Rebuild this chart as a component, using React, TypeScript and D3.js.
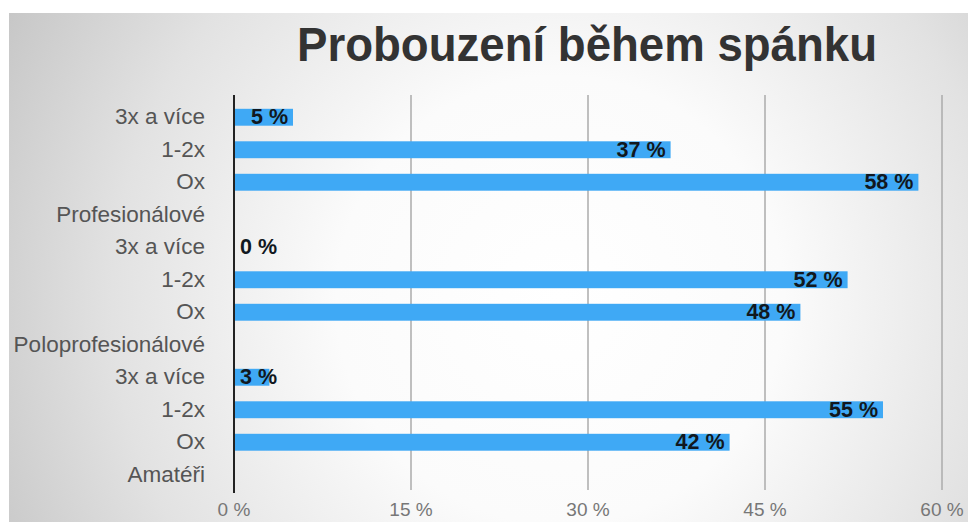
import React from "react";
import * as d3 from "d3";

const title = "Probouzení během spánku";
const categories = [
  "3x a více", "1-2x", "Ox", "Profesionálové",
  "3x a více", "1-2x", "Ox", "Poloprofesionálové",
  "3x a více", "1-2x", "Ox", "Amatéři",
];
const values: (number | null)[] = [5, 37, 58, null, 0, 52, 48, null, 3, 55, 42, null];
const xTicks = [0, 15, 30, 45, 60];

const W = 968;
const H = 522;

export default function App() {
  React.useEffect(() => {
    document.body.style.margin = "0";
  }, []);
  const x = d3.scaleLinear().domain([0, 60]).range([234, 942]);
  const ids = categories.map((_, i) => String(i));
  const y = d3.scaleBand<string>().domain(ids).range([101, 491]).paddingInner(0.48).paddingOuter(0.24);
  const font = "'Liberation Sans', Arial, Helvetica, sans-serif";
  const labelW = (v: number) => (String(v).length * 0.556 + 0.278 + 0.889) * 21;

  return (
    <svg width={W} height={H} style={{ display: "block" }} fontFamily={font}>
      <defs>
        <radialGradient id="bg" gradientUnits="userSpaceOnUse" cx={560} cy={300} r={640}>
          <stop offset="0" stopColor="#ffffff" />
          <stop offset="0.35" stopColor="#fbfbfb" />
          <stop offset="0.7" stopColor="#e2e2e2" />
          <stop offset="1" stopColor="#c4c4c4" />
        </radialGradient>
      </defs>
      <rect x={0} y={0} width={W} height={H} fill="#ffffff" />
      <rect x={9} y={13} width={W - 9} height={H - 13} fill="url(#bg)" />
      <text x={297} y={61} fontSize={49} fontWeight="bold" fill="#333333" textLength={580} lengthAdjust="spacingAndGlyphs">
        {title}
      </text>
      {xTicks.filter((t) => t > 0).map((t) => (
        <line key={"g" + t} x1={x(t)} x2={x(t)} y1={95} y2={490} stroke="#ababab" strokeWidth={1.5} />
      ))}
      {xTicks.map((t) => (
        <text key={"t" + t} x={x(t)} y={516} fontSize={19} fill="#777777" textAnchor="middle">
          {t} %
        </text>
      ))}
      {categories.map((c, i) => (
        <text key={"c" + i} x={205} y={(y(ids[i]) as number) + y.bandwidth() / 2 + 7} fontSize={22.5} fill="#555555" textAnchor="end">
          {c}
        </text>
      ))}
      {values.map((v, i) =>
        v === null ? null : (
          <rect key={"b" + i} x={x(0)} y={y(ids[i])} width={x(v) - x(0)} height={y.bandwidth()} fill="#3fa9f5" />
        )
      )}
      {values.map((v, i) => {
        if (v === null) return null;
        const cy = (y(ids[i]) as number) + y.bandwidth() / 2 + 7;
        const end = x(v) - 5;
        const fits = end - labelW(v) >= x(0) + 6;
        return (
          <text key={"l" + i} x={fits ? end : x(0) + 6} y={cy} fontSize={21.5} fontWeight="bold" fill="#111820" textAnchor={fits ? "end" : "start"}>
            {v} %
          </text>
        );
      })}
      <line x1={x(0)} x2={x(0)} y1={95} y2={493} stroke="#222222" strokeWidth={2} />
    </svg>
  );
}
